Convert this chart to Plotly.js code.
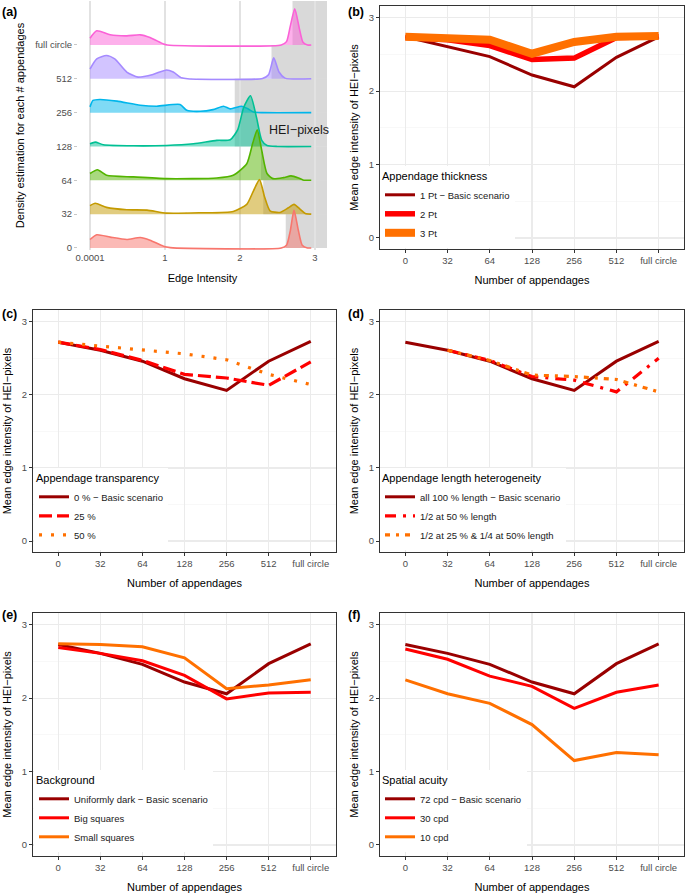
<!DOCTYPE html>
<html>
<head>
<meta charset="utf-8">
<script src="https://cdn.plot.ly/plotly-3.0.1.min.js"></script>
<style>
html,body{margin:0;padding:0;background:#fff;}
#chart{width:685px;height:894px;}
</style>
</head>
<body>
<div id="chart"></div>
<script>
// ---------- DATA ----------
const categories = ['0', '32', '64', '128', '256', '512', 'full circle'];

// Panel (a): density ridges (edge intensity x, density height relative to row spacing)
const ridge0X   = [0, 0.09, 0.27, 0.49, 0.67, 0.8, 0.98, 1.07, 2.55, 2.62, 2.67, 2.72, 2.78, 2.83, 2.9, 2.95];
const ridge0H   = [0.25, 0.39, 0.32, 0.25, 0.31, 0.23, 0.05, 0.01, 0, 0.08, 0.5, 1.12, 0.5, 0.08, 0, 0];
const ridge32X  = [0, 0.07, 0.22, 0.49, 0.76, 1.02, 1.47, 1.91, 2.09, 2.18, 2.26, 2.33, 2.4, 2.53, 2.64, 2.72, 2.8, 2.87, 2.95];
const ridge32H  = [0.25, 0.32, 0.2, 0.13, 0.12, 0.03, 0.04, 0.08, 0.29, 0.69, 1.02, 0.49, 0.1, 0.05, 0.18, 0.29, 0.15, 0.02, 0];
const ridge64X  = [0, 0.1, 0.22, 0.58, 1.02, 1.69, 1.91, 2.09, 2.17, 2.23, 2.29, 2.36, 2.44, 2.58, 2.68, 2.78, 2.84, 2.95];
const ridge64H  = [0.2, 0.31, 0.15, 0.1, 0.05, 0.07, 0.15, 0.49, 1.1, 1.49, 0.88, 0.2, 0.05, 0.08, 0.13, 0.07, 0.01, 0];
const ridge128X = [0, 0.07, 0.18, 0.58, 1.02, 1.38, 1.69, 1.87, 1.97, 2.05, 2.14, 2.22, 2.29, 2.36, 2.5, 2.95];
const ridge128H = [0.08, 0.13, 0.05, 0.02, 0.03, 0.08, 0.18, 0.2, 0.5, 1.16, 1.5, 0.86, 0.18, 0.03, 0, 0];
const ridge256X = [0, 0.04, 0.13, 0.36, 0.67, 0.89, 1.2, 1.29, 1.47, 1.64, 1.78, 1.87, 2.02, 2.1, 2.18, 2.3, 2.95];
const ridge256H = [0.17, 0.36, 0.39, 0.34, 0.22, 0.19, 0.24, 0.07, 0.04, 0.09, 0.19, 0.11, 0.19, 0.12, 0.02, 0, 0];
const ridge512X = [0, 0.09, 0.22, 0.33, 0.49, 0.64, 0.84, 1.02, 1.11, 1.22, 1.3, 2.3, 2.38, 2.45, 2.52, 2.6, 2.95];
const ridge512H = [0.29, 0.59, 0.69, 0.59, 0.2, 0.05, 0.13, 0.26, 0.2, 0.03, 0, 0.01, 0.12, 0.62, 0.2, 0.02, 0];
const ridgeFcX  = [0, 0.09, 0.27, 0.49, 0.67, 0.8, 0.98, 1.03, 2.55, 2.62, 2.67, 2.73, 2.79, 2.84, 2.9, 2.95];
const ridgeFcH  = [0.2, 0.42, 0.3, 0.27, 0.3, 0.22, 0.03, 0, 0, 0.1, 0.55, 1.07, 0.5, 0.08, 0, 0];
// HEI-pixel threshold per row (start of grey band)
const heiThreshold = [2.61, 2.31, 2.28, 1.93, 1.93, 2.42, 2.7];
const ridgeColors = ['#F8766D', '#C49A00', '#53B400', '#00C094', '#00B6EB', '#A58AFF', '#FB61D7'];

// Panel (b): Appendage thickness
const thickNames = ['1 Pt \u2212 Basic scenario', '2 Pt', '3 Pt'];
const thick1 = [2.74, 2.61, 2.47, 2.22, 2.06, 2.46, 2.74];
const thick2 = [2.73, 2.70, 2.62, 2.43, 2.45, 2.73, 2.74];
const thick3 = [2.74, 2.73, 2.70, 2.51, 2.67, 2.74, 2.75];

// Panel (c): Appendage transparency
const transNames = ['0 % \u2212 Basic scenario', '25 %', '50 %'];
const trans0  = [2.72, 2.61, 2.46, 2.22, 2.06, 2.46, 2.73];
const trans25 = [2.72, 2.62, 2.47, 2.28, 2.23, 2.13, 2.45];
const trans50 = [2.72, 2.67, 2.62, 2.56, 2.48, 2.28, 2.14];

// Panel (d): Appendage length heterogeneity
const lenNames = ['all 100 % length \u2212 Basic scenario', '1/2 at 50 % length', '1/2 at 25 % & 1/4 at 50% length'];
const lenAll  = [2.72, 2.61, 2.46, 2.22, 2.06, 2.46, 2.73];
const lenHalf = [null, 2.61, 2.47, 2.25, 2.20, 2.04, 2.50];
const lenQuar = [null, 2.61, 2.47, 2.27, 2.25, 2.21, 2.04];

// Panel (e): Background
const bgNames = ['Uniformly dark \u2212 Basic scenario', 'Big squares', 'Small squares'];
const bgDark  = [2.73, 2.61, 2.46, 2.22, 2.06, 2.47, 2.74];
const bgBig   = [2.69, 2.61, 2.51, 2.31, 1.99, 2.07, 2.08];
const bgSmall = [2.74, 2.73, 2.70, 2.55, 2.13, 2.18, 2.25];

// Panel (f): Spatial acuity
const acuNames = ['72 cpd \u2212 Basic scenario', '30 cpd', '10 cpd'];
const acu72 = [2.73, 2.61, 2.46, 2.22, 2.06, 2.47, 2.74];
const acu30 = [2.67, 2.53, 2.30, 2.16, 1.86, 2.08, 2.18];
const acu10 = [2.25, 2.06, 1.93, 1.64, 1.15, 1.26, 1.23];

// ---------- STYLE ----------
const FONT = 'Liberation Sans, Arial, Helvetica, sans-serif';
const DARKRED = '#990000', RED = '#FF0000', ORANGE = '#FF7000';
const tickFont = {family: FONT, size: 9.5, color: '#4d4d4d'};
const titleFont = {family: FONT, size: 11, color: '#000'};

const ridgesX = [ridge0X, ridge32X, ridge64X, ridge128X, ridge256X, ridge512X, ridgeFcX];
const ridgesH = [ridge0H, ridge32H, ridge64H, ridge128H, ridge256H, ridge512H, ridgeFcH];

const traces = [];
// ridges: top row first so lower rows overlay
for (let i = 6; i >= 0; i--) {
  const xs = ridgesX[i], hs = ridgesH[i];
  traces.push({
    x: [xs[0], xs[xs.length - 1]], y: [i, i], xaxis: 'x', yaxis: 'y',
    mode: 'lines', line: {width: 0, color: 'rgba(0,0,0,0)'}, showlegend: false, hoverinfo: 'skip'
  });
  const c = ridgeColors[i];
  const r = parseInt(c.slice(1, 3), 16), g = parseInt(c.slice(3, 5), 16), b = parseInt(c.slice(5, 7), 16);
  traces.push({
    x: xs, y: hs.map(h => i + h), xaxis: 'x', yaxis: 'y',
    mode: 'lines', line: {color: c, width: 1.6, shape: 'spline', smoothing: 0.6},
    fill: 'tonexty', fillcolor: `rgba(${r},${g},${b},0.5)`, showlegend: false, name: categories[i]
  });
}

function addSeries(axisNum, legendId, names, series, styles) {
  series.forEach((ys, k) => {
    traces.push({
      x: categories, y: ys, xaxis: 'x' + axisNum, yaxis: 'y' + axisNum,
      mode: 'lines', name: names[k], legend: legendId, connectgaps: false,
      line: Object.assign({}, styles[k])
    });
  });
}
addSeries(2, 'legend', thickNames, [thick1, thick2, thick3],
  [{color: DARKRED, width: 3}, {color: RED, width: 5.5}, {color: ORANGE, width: 8}]);
addSeries(3, 'legend2', transNames, [trans0, trans25, trans50],
  [{color: DARKRED, width: 3}, {color: RED, width: 3.2, dash: '13px,5px'}, {color: ORANGE, width: 3.2, dash: '3px,9px'}]);
addSeries(4, 'legend3', lenNames, [lenAll, lenHalf, lenQuar],
  [{color: DARKRED, width: 3}, {color: RED, width: 3.2, dash: '11px,7px,3px,7px'}, {color: ORANGE, width: 3.2, dash: '5px,6px,3px,6px'}]);
addSeries(5, 'legend4', bgNames, [bgDark, bgBig, bgSmall],
  [{color: DARKRED, width: 3}, {color: RED, width: 3}, {color: ORANGE, width: 3}]);
addSeries(6, 'legend5', acuNames, [acu72, acu30, acu10],
  [{color: DARKRED, width: 3}, {color: RED, width: 3}, {color: ORANGE, width: 3}]);

// ---------- LAYOUT ----------
const W = 685, H = 894;
const px = v => v / W, py = v => 1 - v / H;

function catX(dom, anchor) {
  return {
    domain: dom, anchor: anchor, type: 'category', range: [-0.6, 6.6],
    showgrid: true, gridcolor: '#ebebeb', gridwidth: 1.2,
    showline: true, mirror: true, linecolor: '#333333', linewidth: 1,
    ticks: 'outside', ticklen: 3, tickcolor: '#333333', tickwidth: 1,
    tickfont: tickFont, zeroline: false, automargin: false,
    title: {text: 'Number of appendages', font: titleFont, standoff: 10}
  };
}
function valY(dom, anchor) {
  return {
    domain: dom, anchor: anchor, range: [-0.15, 3.16],
    tickvals: [0, 1, 2, 3], ticktext: ['0', '1', '2', '3'],
    showgrid: true, gridcolor: '#ebebeb', gridwidth: 1.2,
    minor: {tickvals: [0.5, 1.5, 2.5], showgrid: true, gridcolor: '#f3f3f3', gridwidth: 0.6, ticks: ''},
    showline: true, mirror: true, linecolor: '#333333', linewidth: 1,
    ticks: 'outside', ticklen: 3, tickcolor: '#333333', tickwidth: 1,
    tickfont: tickFont, zeroline: false, automargin: false,
    title: {text: 'Mean edge intensity of HEI\u2212pixels', font: titleFont, standoff: 7}
  };
}

const colL = [px(33), px(336)], colR = [px(380), px(684)];
const rowTop = [py(249), py(6)], rowMid = [py(552), py(310)], rowBot = [py(856), py(613)];

// grey HEI bands
const shapes = heiThreshold.map((t, i) => ({
  type: 'rect', xref: 'x', yref: 'y', x0: t, x1: 3.16, y0: i, y1: i === 6 ? 7.3 : i + 1,
  fillcolor: 'rgba(150,150,150,0.36)', line: {width: 0}, layer: 'below'
}));

function legendAt(xp, yp) {
  return {
    x: px(xp), y: py(yp), xanchor: 'left', yanchor: 'top', xref: 'paper', yref: 'paper',
    bgcolor: '#ffffff', borderwidth: 0, itemwidth: 30, traceorder: 'normal',
    font: {family: FONT, size: 9.5, color: '#1a1a1a'},
    title: {font: {family: FONT, size: 11, color: '#000'}}
  };
}

const leg1 = legendAt(380, 166); leg1.title.text = 'Appendage thickness';
const leg2 = legendAt(34, 468); leg2.title.text = 'Appendage transparency';
const leg3 = legendAt(380, 468); leg3.title.text = 'Appendage length heterogeneity';
const leg4 = legendAt(34, 770); leg4.title.text = 'Background';
const leg5 = legendAt(380, 770); leg5.title.text = 'Spatial acuity';

const panelLabel = (t, x, y) => ({
  text: '<b>' + t + '</b>', xref: 'paper', yref: 'paper', x: px(x), y: py(y),
  xanchor: 'left', yanchor: 'middle', showarrow: false,
  font: {family: FONT, size: 12.5, color: '#000'}
});

const layout = {
  width: W, height: H, margin: {l: 0, r: 0, t: 0, b: 0},
  paper_bgcolor: '#fff', plot_bgcolor: '#fff',
  font: {family: FONT},
  showlegend: true,
  xaxis: {
    domain: [px(78), px(327)], anchor: 'y', range: [-0.16, 3.16],
    tickvals: [0, 1, 2, 3], ticktext: ['0.0001', '1', '2', '3'],
    showgrid: true, gridcolor: '#e2e2e2', gridwidth: 1.5, zeroline: false, showline: false,
    ticks: '', tickfont: tickFont, automargin: false,
    title: {text: 'Edge Intensity', font: titleFont, standoff: 12}
  },
  yaxis: {
    domain: [py(250), py(1)], anchor: 'x', range: [-0.06, 7.3],
    tickvals: [0, 1, 2, 3, 4, 5, 6], ticktext: categories,
    showgrid: false, zeroline: false, showline: false,
    ticks: 'outside', ticklen: 3, tickcolor: '#c8c8c8', tickwidth: 1,
    tickfont: tickFont, automargin: false,
    title: {text: 'Density estimation for each # appendages', font: titleFont, standoff: 8}
  },
  xaxis2: catX(colR, 'y2'), yaxis2: valY(rowTop, 'x2'),
  xaxis3: catX(colL, 'y3'), yaxis3: valY(rowMid, 'x3'),
  xaxis4: catX(colR, 'y4'), yaxis4: valY(rowMid, 'x4'),
  xaxis5: catX(colL, 'y5'), yaxis5: valY(rowBot, 'x5'),
  xaxis6: catX(colR, 'y6'), yaxis6: valY(rowBot, 'x6'),
  legend: leg1, legend2: leg2, legend3: leg3, legend4: leg4, legend5: leg5,
  shapes: shapes,
  annotations: [
    panelLabel('(a)', 0, 12), panelLabel('(b)', 346, 12),
    panelLabel('(c)', 0, 314), panelLabel('(d)', 346, 314),
    panelLabel('(e)', 0, 615), panelLabel('(f)', 346, 615),
    {text: 'HEI\u2212pixels', xref: 'x', yref: 'y', x: 2.36, y: 3.5, xanchor: 'left', yanchor: 'middle',
     showarrow: false, font: {family: FONT, size: 12.5, color: '#1a1a1a'}}
  ]
};

Plotly.newPlot('chart', traces, layout, {displayModeBar: false, staticPlot: true});
</script>
</body>
</html>
